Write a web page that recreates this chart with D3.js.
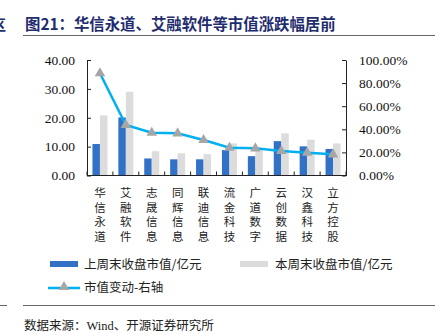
<!DOCTYPE html>
<html><head><meta charset="utf-8">
<script src="https://cdn.jsdelivr.net/npm/d3@7"></script>
<style>body{margin:0;background:#fff}svg{display:block}</style>
</head><body>
<script>
const categories = ["华信永道","艾融软件","志晟信息","同辉信息","联迪信息","流金科技","广道数字","云创数据","汉鑫科技","立方控股"];
const lastWeek = [10.9, 20.1, 5.9, 5.6, 5.6, 8.8, 6.7, 11.9, 10.1, 9.2];
const thisWeek = [20.8, 29.0, 8.4, 7.7, 7.4, 11.1, 9.0, 14.6, 12.4, 11.1];
const change = [0.885, 0.437, 0.37, 0.365, 0.307, 0.24, 0.235, 0.212, 0.197, 0.183];
const leftTicks = [0, 10, 20, 30, 40];
const rightTicks = [0, 0.2, 0.4, 0.6, 0.8, 1.0];

const W = 439, H = 333;
const svg = d3.select("body").append("svg").attr("width", W).attr("height", H);
const serif = "'Liberation Serif','Times New Roman',serif";
const cjk = "'Noto Sans CJK SC',sans-serif";
const navy = "#1f2d6e";

// header
svg.append("text").attr("x", -8).attr("y", 30).attr("font-family", cjk).attr("font-weight", "bold")
  .attr("font-size", 14).attr("fill", navy).text("区");
svg.append("text").attr("x", 25).attr("y", 30).attr("font-family", cjk).attr("font-weight", "bold")
  .attr("font-size", 15.4).attr("fill", navy).text("图21：华信永道、艾融软件等市值涨跌幅居前");
svg.append("line").attr("x1", 23).attr("x2", 435).attr("y1", 35.5).attr("y2", 35.5).attr("stroke", "#666").attr("stroke-width", 1);

const x = d3.scaleBand().domain(categories).range([87, 346]);
const yL = d3.scaleLinear().domain([0, 40]).range([175.5, 60]);
const yR = d3.scaleLinear().domain([0, 1]).range([175.5, 60]);
const bw = 7.5;

const g = svg.append("g");
g.selectAll(".b1").data(categories).join("rect")
  .attr("x", d => x(d) + x.bandwidth()/2 - bw).attr("width", bw)
  .attr("y", (d,i) => yL(lastWeek[i])).attr("height", (d,i) => yL(0) - yL(lastWeek[i]))
  .attr("fill", "#3272c6");
g.selectAll(".b2").data(categories).join("rect")
  .attr("x", d => x(d) + x.bandwidth()/2).attr("width", bw)
  .attr("y", (d,i) => yL(thisWeek[i])).attr("height", (d,i) => yL(0) - yL(thisWeek[i]))
  .attr("fill", "#dcdcdc");

// axes
const axL = d3.axisLeft(yL).tickValues(leftTicks).tickFormat(d => d.toFixed(2)).tickSizeInner(-4).tickSizeOuter(0).tickPadding(12);
const axR = d3.axisRight(yR).tickValues(rightTicks).tickFormat(d => (d*100).toFixed(2) + "%").tickSizeInner(-4).tickSizeOuter(0).tickPadding(13);
const gl = svg.append("g").attr("transform", "translate(87,0)").call(axL);
const gr = svg.append("g").attr("transform", "translate(346,0)").call(axR);
[gl, gr].forEach(a => {
  a.selectAll("text").attr("font-family", serif).attr("font-size", 13.5).attr("fill", "#111");
  a.selectAll("line,path").attr("stroke", "#222");
});
// x axis with inward ticks at boundaries
const bounds = categories.map(d => x(d)).concat([346]);
svg.append("line").attr("x1", 87).attr("x2", 346).attr("y1", 175.5).attr("y2", 175.5).attr("stroke", "#222");
svg.selectAll(".xt").data(bounds).join("line").attr("x1", d => d).attr("x2", d => d)
  .attr("y1", 175.5).attr("y2", 171.5).attr("stroke", "#222");

// line
const line = d3.line().x((d,i) => x(categories[i]) + x.bandwidth()/2).y(d => yR(d));
svg.append("path").datum(change).attr("d", line).attr("fill", "none").attr("stroke", "#00b0f0").attr("stroke-width", 2.5);
const tri = d3.symbol().type(d3.symbolTriangle).size(48);
svg.selectAll(".tri").data(change).join("path").attr("d", tri)
  .attr("transform", (d,i) => `translate(${x(categories[i]) + x.bandwidth()/2},${yR(d)})`)
  .attr("fill", "#a6a6a6");

// x labels vertical, one text per character
categories.forEach(c => {
  [...c].forEach((ch, k) => {
    svg.append("text").attr("font-family", cjk).attr("font-size", 11.5).attr("fill", "#222")
      .attr("text-anchor", "middle")
      .attr("x", x(c) + x.bandwidth()/2).attr("y", 197 + k*14.6).text(ch);
  });
});

// legend
svg.append("rect").attr("x", 50).attr("y", 261).attr("width", 28).attr("height", 6).attr("fill", "#3272c6");
svg.append("text").attr("x", 84).attr("y", 269).attr("font-family", cjk).attr("font-size", 12.5).attr("fill", "#222").text("上周末收盘市值/亿元");
svg.append("rect").attr("x", 240).attr("y", 261).attr("width", 28).attr("height", 6).attr("fill", "#dcdcdc");
svg.append("text").attr("x", 275).attr("y", 269).attr("font-family", cjk).attr("font-size", 12.5).attr("fill", "#222").text("本周末收盘市值/亿元");
svg.append("line").attr("x1", 48).attr("x2", 80).attr("y1", 288).attr("y2", 288).attr("stroke", "#00b0f0").attr("stroke-width", 2.5);
svg.append("path").attr("d", tri).attr("transform", "translate(64,287)").attr("fill", "#a6a6a6");
svg.append("text").attr("x", 84).attr("y", 292).attr("font-family", cjk).attr("font-size", 12.5).attr("fill", "#222").text("市值变动-右轴");

// footer
svg.append("line").attr("x1", 0).attr("x2", 7).attr("y1", 305.5).attr("y2", 305.5).attr("stroke", "#666");
svg.append("line").attr("x1", 23).attr("x2", 435).attr("y1", 305.5).attr("y2", 305.5).attr("stroke", "#666");
const src = svg.append("text").attr("x", 24).attr("y", 330).attr("font-size", 12.5).attr("fill", "#222");
src.append("tspan").attr("font-family", cjk).text("数据来源：");
src.append("tspan").attr("font-family", serif).text("Wind");
src.append("tspan").attr("font-family", cjk).text("、开源证券研究所");
</script>
</body></html>
